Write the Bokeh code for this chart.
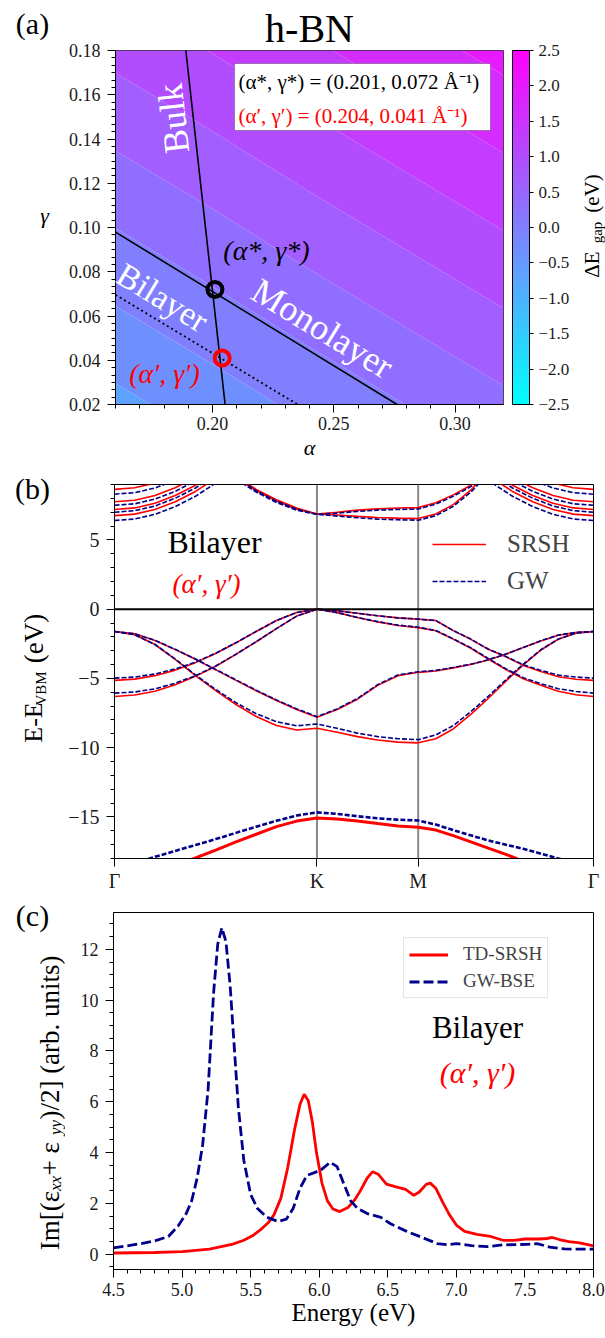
import numpy as np
from bokeh.plotting import figure
from bokeh.layouts import column, row
from bokeh.models import (Label, BoxAnnotation, ColorBar, LinearColorMapper, SingleIntervalTicker,
                          FixedTicker, PrintfTickFormatter, CustomJSTickFormatter, Legend,
                          LegendItem, Range1d, Span)
from bokeh.embed import file_html
from bokeh.resources import INLINE

SERIF = "Liberation Serif"
RED = "#ff0000"
NAVY = "#00008b"

# ---------------- (a) gap difference map ----------------
alpha_grid = [0.16, 0.20, 0.24, 0.28, 0.32]
gamma_grid = [0.02, 0.06, 0.10, 0.14, 0.18]
# ΔE_gap (eV); rows follow gamma_grid, columns follow alpha_grid
dgap = [
    [-0.59, -0.34, -0.08, 0.17, 0.42],
    [-0.21, 0.04, 0.30, 0.55, 0.80],
    [0.17, 0.42, 0.68, 0.93, 1.18],
    [0.55, 0.80, 1.06, 1.31, 1.56],
    [0.93, 1.18, 1.44, 1.69, 1.94],
]
bulk_alpha = [0.1890, 0.2052]
bulk_gamma = [0.18, 0.02]
mono_alpha = [0.16, 0.2761]
mono_gamma = [0.0979, 0.02]
bilayer_alpha = [0.16, 0.2351]
bilayer_gamma = [0.0696, 0.02]
star_alpha, star_gamma = [0.201], [0.072]
prime_alpha, prime_gamma = [0.204], [0.041]

# ---------------- (b) band structure ----------------
hs_k = [0.0, 1.0, 1.5, 2.366]
hs_labels = ["Γ", "K", "M", "Γ"]
k_path = [0.0, 0.1, 0.2, 0.3, 0.4, 0.5, 0.6, 0.7, 0.8, 0.9, 1.0,
          1.1, 1.2, 1.3, 1.4, 1.5,
          1.587, 1.673, 1.760, 1.846, 1.933, 2.019, 2.106, 2.192, 2.279, 2.366]

pi_a_srsh = [-5.14, -5.05, -4.80, -4.40, -3.86, -3.20, -2.43, -1.61, -0.82, -0.24, 0.0,
             -0.12, -0.30, -0.48, -0.63, -0.72,
             -0.82, -1.55, -2.18, -2.90, -3.44, -4.06, -4.50, -4.88, -5.06, -5.14]
pi_a_gw = [-4.98, -4.90, -4.68, -4.32, -3.82, -3.18, -2.42, -1.60, -0.82, -0.24, 0.0,
           -0.12, -0.30, -0.48, -0.63, -0.72,
           -0.82, -1.54, -2.16, -2.88, -3.41, -4.01, -4.42, -4.76, -4.90, -4.98]
pi_b_srsh = [-6.30, -6.20, -5.92, -5.45, -4.85, -4.12, -3.26, -2.35, -1.40, -0.50, 0.0,
             -0.25, -0.60, -0.92, -1.18, -1.33,
             -1.56, -2.16, -2.82, -3.60, -4.36, -5.02, -5.50, -5.92, -6.18, -6.30]
pi_b_gw = [-6.06, -5.98, -5.75, -5.35, -4.80, -4.10, -3.25, -2.35, -1.40, -0.50, 0.0,
           -0.25, -0.60, -0.90, -1.15, -1.30,
           -1.54, -2.14, -2.79, -3.56, -4.30, -4.95, -5.38, -5.74, -5.94, -6.06]
sigma_a_srsh = [-1.61, -1.78, -2.26, -2.92, -3.62, -4.38, -5.14, -5.89, -6.60, -7.25, -7.80,
                -7.24, -6.50, -5.50, -4.80, -4.56,
                -4.46, -4.24, -3.99, -3.67, -3.26, -2.77, -2.29, -1.88, -1.68, -1.61]
sigma_a_gw = [-1.61, -1.78, -2.25, -2.90, -3.60, -4.35, -5.10, -5.85, -6.55, -7.20, -7.76,
              -7.20, -6.45, -5.45, -4.75, -4.52,
              -4.42, -4.21, -3.97, -3.65, -3.24, -2.76, -2.28, -1.87, -1.68, -1.61]
sigma_b_srsh = [-1.61, -1.85, -2.55, -3.62, -4.80, -5.88, -6.88, -7.75, -8.40, -8.72, -8.60,
                -8.88, -9.20, -9.45, -9.60, -9.65,
                -9.35, -8.65, -7.60, -6.45, -5.20, -4.02, -2.95, -2.17, -1.73, -1.61]
sigma_b_gw = [-1.61, -1.85, -2.55, -3.60, -4.75, -5.80, -6.75, -7.55, -8.12, -8.42, -8.29,
              -8.60, -8.95, -9.20, -9.35, -9.42,
              -9.08, -8.41, -7.40, -6.30, -5.10, -3.97, -2.93, -2.16, -1.73, -1.61]
s_srsh = [-19.60, -19.30, -18.95, -18.50, -17.96, -17.40, -16.80, -16.25, -15.70, -15.30, -15.07,
          -15.15, -15.30, -15.48, -15.65, -15.75,
          -15.95, -16.35, -16.80, -17.25, -17.70, -18.20, -18.65, -19.05, -19.40, -19.60]
s_gw = [-18.70, -18.35, -17.88, -17.45, -17.03, -16.60, -16.15, -15.70, -15.28, -14.90, -14.67,
        -14.78, -14.95, -15.10, -15.20, -15.26,
        -15.55, -15.95, -16.33, -16.70, -17.00, -17.30, -17.65, -18.00, -18.35, -18.70]

k_pistar = [0.6, 0.7, 0.8, 0.9, 1.0, 1.1, 1.2, 1.3, 1.4, 1.5, 1.587, 1.673, 1.760, 1.846]
pistar1_srsh = [9.60, 8.65, 7.90, 7.30, 6.87, 7.00, 7.15, 7.24, 7.30, 7.33, 7.68, 8.25, 8.95, 9.70]
pistar1_gw = [9.50, 8.55, 7.80, 7.22, 6.85, 6.93, 7.06, 7.15, 7.20, 7.23, 7.58, 8.15, 8.85, 9.60]
pistar2_srsh = [9.50, 8.55, 7.80, 7.22, 6.87, 6.80, 6.70, 6.62, 6.57, 6.54, 6.87, 7.55, 8.60, 9.90]
pistar2_gw = [9.40, 8.45, 7.70, 7.14, 6.85, 6.72, 6.60, 6.50, 6.45, 6.42, 6.75, 7.42, 8.45, 9.75]

k_nfe_left = [0.0, 0.1, 0.2, 0.3, 0.4, 0.5, 0.6]
k_nfe_right = [2.366, 2.266, 2.166, 2.066, 1.966, 1.866, 1.766]
nfe_srsh = [
    [8.65, 8.76, 9.10, 9.66, 10.40, 11.40, 12.60],
    [7.75, 7.86, 8.20, 8.76, 9.50, 10.50, 11.70],
    [7.20, 7.31, 7.65, 8.21, 8.95, 9.90, 11.10],
    [6.75, 6.86, 7.20, 7.76, 8.50, 9.45, 10.60],
]
nfe_gw = [
    [8.30, 8.41, 8.75, 9.31, 10.00, 11.00, 12.20],
    [7.50, 7.61, 7.95, 8.51, 9.25, 10.20, 11.40],
    [7.00, 7.11, 7.45, 8.01, 8.75, 9.70, 10.90],
    [6.40, 6.51, 6.85, 7.41, 8.15, 9.10, 10.30],
]

# ---------------- (c) absorption spectra ----------------
e_bse = [4.50, 4.60, 4.70, 4.80, 4.90, 4.97, 5.03, 5.07, 5.11, 5.15, 5.19, 5.23, 5.26, 5.29,
         5.32, 5.35, 5.38, 5.41, 5.45, 5.50, 5.55, 5.62, 5.70, 5.76, 5.81, 5.86, 5.91, 5.97,
         6.02, 6.08, 6.13, 6.18, 6.23, 6.28, 6.35, 6.45, 6.52, 6.63, 6.75, 6.86, 6.94, 7.00,
         7.11, 7.23, 7.34, 7.51, 7.59, 7.68, 7.79, 7.90, 8.00]
im_bse = [0.25, 0.33, 0.42, 0.52, 0.70, 1.10, 1.60, 2.10, 3.00, 4.30, 6.50, 10.30, 12.20, 12.85,
          12.30, 10.60, 8.20, 5.80, 3.70, 2.35, 1.80, 1.45, 1.29, 1.38, 1.80, 2.60, 3.10, 3.22,
          3.35, 3.62, 3.45, 2.76, 2.10, 1.80, 1.60, 1.45, 1.20, 0.92, 0.66, 0.42, 0.37, 0.42,
          0.34, 0.30, 0.37, 0.39, 0.42, 0.28, 0.21, 0.20, 0.20]
e_td = [4.50, 4.80, 5.00, 5.20, 5.37, 5.45, 5.52, 5.58, 5.63, 5.67, 5.72, 5.77, 5.82, 5.86,
        5.89, 5.92, 5.95, 5.98, 6.02, 6.06, 6.10, 6.15, 6.21, 6.26, 6.30, 6.35, 6.39, 6.43,
        6.49, 6.56, 6.63, 6.69, 6.73, 6.78, 6.81, 6.85, 6.90, 6.95, 7.00, 7.06, 7.15, 7.25,
        7.34, 7.42, 7.50, 7.60, 7.66, 7.70, 7.75, 7.82, 7.90, 8.00]
im_td = [0.05, 0.07, 0.10, 0.20, 0.40, 0.55, 0.75, 1.00, 1.25, 1.55, 2.20, 3.40, 4.90, 5.90,
         6.30, 6.05, 5.20, 4.00, 2.80, 2.10, 1.78, 1.68, 1.84, 2.15, 2.50, 3.00, 3.25, 3.15,
         2.76, 2.65, 2.55, 2.32, 2.45, 2.75, 2.80, 2.60, 2.05, 1.55, 1.15, 0.90, 0.78, 0.70,
         0.55, 0.55, 0.60, 0.60, 0.62, 0.66, 0.58, 0.50, 0.45, 0.33]


# ---------------- helpers ----------------
def cool(t):
    t = min(max(t, 0.0), 1.0)
    return "#%02x%02x%02x" % (int(round(255 * t)), int(round(255 * (1 - t))), 255)


def style(p, size):
    p.xgrid.visible = False
    p.ygrid.visible = False
    p.outline_line_color = "black"
    p.outline_line_width = 1
    p.outline_line_alpha = 1
    for ax in p.axis:
        ax.major_label_text_font = SERIF
        ax.major_label_text_font_size = size
        ax.major_label_text_color = "#1a1a1a"
        ax.major_tick_in = 0
        ax.major_tick_out = 8
        ax.minor_tick_in = 0
        ax.minor_tick_out = 4
        ax.axis_line_color = "black"
        ax.major_tick_line_color = "black"
        ax.minor_tick_line_color = "black"
        ax.major_label_standoff = 7
        ax.axis_label_text_font = SERIF
        ax.axis_label_text_font_style = "normal"
        ax.axis_label_text_color = "black"


def strip(w, h):
    """Blank drawing area that only carries text."""
    s = figure(width=w, height=h, x_range=Range1d(0, 1), y_range=Range1d(0, 1),
               x_axis_type=None, y_axis_type=None, output_backend="svg",
               toolbar_location=None, min_border=0)
    s.outline_line_color = None
    s.xgrid.visible = False
    s.ygrid.visible = False
    return s


def txt(p, origin, x, y, text, size, color="black", angle=0, align="center",
        baseline="middle", font_style="normal"):
    """Place text at page position (x, y); origin is the figure's top-left on the page."""
    p.add_layout(Label(x=x - origin[0], y=y - origin[1], x_units="canvas", y_units="canvas",
                       text=text, text_font=SERIF, text_font_size=f"{size}px",
                       text_color=color, angle=angle, angle_units="deg", text_align=align,
                       text_baseline=baseline, text_font_style=font_style))


MINUS_FMT = "return (tick < 0 ? '\u2212' : '') + Math.abs(tick).toString();"

# ---------------- page pieces ----------------
A_H, B_H, C_H = 465, 429, 444
LEFT_W = 65
PA_W = 510
RIGHT_W = 605 - LEFT_W - PA_W

# ---------------- panel (a) ----------------
levels = list(np.linspace(-2.5, 2.5, 16))
band_colors = [cool(((levels[i] + levels[i + 1]) / 2 + 2.5) / 5) for i in range(15)]
cool256 = [cool(i / 255) for i in range(256)]

O_A = (LEFT_W, 0)
pa = figure(width=PA_W, height=A_H, x_range=Range1d(0.16, 0.32), y_range=Range1d(0.02, 0.18),
            output_backend="svg", toolbar_location=None,
            min_border_left=113 - LEFT_W, min_border_right=PA_W - 390 - (113 - LEFT_W),
            min_border_top=50, min_border_bottom=61)
pa.title.text = "h-BN"
pa.title.align = "center"
pa.title.offset = 17
pa.title.standoff = 0
pa.title.text_font = SERIF
pa.title.text_font_size = "40px"
pa.title.text_font_style = "normal"
pa.title.text_color = "black"

pa.contour(x=alpha_grid, y=gamma_grid, z=np.array(dgap), levels=levels,
           fill_color=band_colors, line_color=None)
pa.line(bulk_alpha, bulk_gamma, line_color="black", line_width=1.6)
pa.line(mono_alpha, mono_gamma, line_color="black", line_width=1.6)
pa.line(bilayer_alpha, bilayer_gamma, line_color="black", line_width=1.8, line_dash="2 3")
pa.scatter(star_alpha, star_gamma, marker="circle", size=15, fill_color=None,
           line_color="black", line_width=4)
pa.scatter(prime_alpha, prime_gamma, marker="circle", size=15, fill_color=None,
           line_color=RED, line_width=4)
style(pa, "18px")
pa.xaxis.ticker = SingleIntervalTicker(interval=0.05, num_minor_ticks=5)
pa.yaxis.ticker = SingleIntervalTicker(interval=0.02, num_minor_ticks=6)
pa.xaxis.formatter = PrintfTickFormatter(format="%.2f")
pa.yaxis.formatter = PrintfTickFormatter(format="%.2f")
pa.xaxis.major_label_standoff = 4
pa.xaxis.axis_label = "α"
pa.xaxis.axis_label_text_font_size = "22px"
pa.xaxis.axis_label_text_font_style = "italic"
pa.xaxis.axis_label_standoff = 2
pa.outline_line_color = "#333333"

mapper = LinearColorMapper(palette=cool256, low=-2.5, high=2.5)
cbar = ColorBar(color_mapper=mapper, location=(397, 0), orientation="vertical", width=17,
                height=354, padding=0, margin=0,
                ticker=SingleIntervalTicker(interval=0.5, num_minor_ticks=0),
                formatter=CustomJSTickFormatter(code="return tick.toFixed(1).replace('-', '\u2212');"),
                major_tick_in=0, major_tick_out=4, major_tick_line_color="black",
                minor_tick_line_color=None, bar_line_color="black", bar_line_width=1,
                label_standoff=5, major_label_text_font=SERIF, major_label_text_font_size="17px",
                major_label_text_color="#1a1a1a", background_fill_alpha=0, border_line_color=None)
pa.add_layout(cbar)

pa.add_layout(BoxAnnotation(left=234 - O_A[0], right=490 - O_A[0], top=63 - O_A[1],
                            bottom=130 - O_A[1], left_units="canvas", right_units="canvas",
                            top_units="canvas", bottom_units="canvas",
                            fill_color="white", fill_alpha=1, line_color="black", line_width=1))
txt(pa, O_A, 238, 81, "(α*, γ*) = (0.201, 0.072 Å⁻¹)", 21, align="left")
txt(pa, O_A, 238, 115, "(α′, γ′) = (0.204, 0.041 Å⁻¹)", 21, color=RED, align="left")
txt(pa, O_A, 173, 118, "Bulk", 36, color="white", angle=96.4)
txt(pa, O_A, 162, 297, "Bilayer", 34, color="white", angle=-31.3)
txt(pa, O_A, 322, 328, "Monolayer", 36, color="white", angle=-31.3)
txt(pa, O_A, 266, 250, "(α*, γ*)", 28, font_style="italic")
txt(pa, O_A, 164, 373, "(α′, γ′)", 28, color=RED, font_style="italic")

left_a = strip(LEFT_W, A_H)
txt(left_a, (0, 0), 32, 23, "(a)", 30)
txt(left_a, (0, 0), 44, 215, "γ", 22, font_style="italic")

right_a = strip(RIGHT_W, A_H)
O_RA = (LEFT_W + PA_W, 0)
txt(right_a, O_RA, 591, 264, "ΔE", 21, angle=90)
txt(right_a, O_RA, 596, 232, "gap", 15, angle=90)
txt(right_a, O_RA, 591, 193, "(eV)", 21, angle=90)

# ---------------- panel (b) ----------------
B_TOP = A_H
O_B = (LEFT_W, B_TOP)
pb = figure(width=605 - LEFT_W, height=B_H, x_range=Range1d(0, 2.366), y_range=Range1d(-18, 9),
            output_backend="svg", toolbar_location=None,
            min_border_left=113 - LEFT_W, min_border_right=12, min_border_top=19,
            min_border_bottom=35)
for k in hs_k[1:3]:
    pb.add_layout(Span(location=k, dimension="height", line_color="#888888", line_width=2,
                       level="underlay"))
pb.add_layout(Span(location=0, dimension="width", line_color="black", line_width=2))

srsh_bands = [pi_a_srsh, pi_b_srsh, sigma_a_srsh, sigma_b_srsh]
gw_bands = [pi_a_gw, pi_b_gw, sigma_a_gw, sigma_b_gw]
red_r = None
blue_r = None
for band in srsh_bands:
    r = pb.line(k_path, band, line_color=RED, line_width=1.6)
    red_r = red_r or r
pb.line(k_path, s_srsh, line_color=RED, line_width=3)
for band in (pistar1_srsh, pistar2_srsh):
    pb.line(k_pistar, band, line_color=RED, line_width=1.6)
for band in nfe_srsh:
    pb.line(k_nfe_left, band, line_color=RED, line_width=1.6)
    pb.line(k_nfe_right, band, line_color=RED, line_width=1.6)
for band in gw_bands:
    r = pb.line(k_path, band, line_color=NAVY, line_width=1.6, line_dash="5 2")
    blue_r = blue_r or r
pb.line(k_path, s_gw, line_color=NAVY, line_width=2.6, line_dash="5 2")
for band in (pistar1_gw, pistar2_gw):
    pb.line(k_pistar, band, line_color=NAVY, line_width=1.6, line_dash="5 2")
for band in nfe_gw:
    pb.line(k_nfe_left, band, line_color=NAVY, line_width=1.6, line_dash="5 2")
    pb.line(k_nfe_right, band, line_color=NAVY, line_width=1.6, line_dash="5 2")

style(pb, "20px")
pb.xaxis.ticker = FixedTicker(ticks=hs_k, minor_ticks=[])
pb.xaxis.major_label_overrides = {k: lab for k, lab in zip(hs_k, hs_labels)}
pb.xaxis.major_label_standoff = 3
pb.yaxis.ticker = SingleIntervalTicker(interval=5, num_minor_ticks=5)
pb.yaxis.formatter = CustomJSTickFormatter(code=MINUS_FMT)

leg_b = Legend(items=[LegendItem(label="SRSH", renderers=[red_r]),
                      LegendItem(label="GW", renderers=[blue_r])],
               location=(318, 261), glyph_width=54, glyph_height=32, label_height=32,
               spacing=5, padding=0, margin=0, label_standoff=21, label_text_font=SERIF,
               label_text_font_size="25px", border_line_color=None, background_fill_alpha=0)
pb.add_layout(leg_b)

txt(pb, O_B, 214, 541, "Bilayer", 32)
txt(pb, O_B, 206, 583, "(α′, γ′)", 27, color=RED, font_style="italic")

left_b = strip(LEFT_W, B_H)
O_LB = (0, B_TOP)
txt(left_b, O_LB, 32, 488, "(b)", 30)
txt(left_b, O_LB, 33, 722, "E-E", 26, angle=90)
txt(left_b, O_LB, 40, 688, "VBM", 15, angle=90)
txt(left_b, O_LB, 33, 638, "(eV)", 27, angle=90)

# ---------------- panel (c) ----------------
C_TOP = B_TOP + B_H
O_C = (LEFT_W, C_TOP)
pc = figure(width=605 - LEFT_W, height=C_H, x_range=Range1d(4.5, 8.0),
            y_range=Range1d(-0.6, 13.45), output_backend="svg", toolbar_location=None,
            min_border_left=113 - LEFT_W, min_border_right=12, min_border_top=18,
            min_border_bottom=69)
r_td = pc.line(e_td, im_td, line_color=RED, line_width=2.8)
r_bse = pc.line(e_bse, im_bse, line_color=NAVY, line_width=2.8, line_dash="10 4")
style(pc, "18px")
pc.xaxis.ticker = SingleIntervalTicker(interval=0.5, num_minor_ticks=5)
pc.xaxis.formatter = PrintfTickFormatter(format="%.1f")
pc.yaxis.ticker = SingleIntervalTicker(interval=2, num_minor_ticks=4)
pc.xaxis.major_label_standoff = 5
pc.xaxis.axis_label = "Energy (eV)"
pc.xaxis.axis_label_text_font_size = "25px"
pc.xaxis.axis_label_standoff = 0

leg_c = Legend(items=[LegendItem(label="TD-SRSH", renderers=[r_td]),
                      LegendItem(label="GW-BSE", renderers=[r_bse])],
               location=(290, 271), glyph_width=39, glyph_height=21, label_height=21,
               spacing=5, padding=5, margin=0, label_standoff=15, label_text_font=SERIF,
               label_text_font_size="19px", border_line_color="#cccccc", border_line_width=1.2,
               background_fill_color="white", background_fill_alpha=0.8)
pc.add_layout(leg_c)

txt(pc, O_C, 477, 1027, "Bilayer", 31)
txt(pc, O_C, 477, 1072, "(α′, γ′)", 30, color=RED, font_style="italic")

left_c = strip(LEFT_W, C_H)
O_LC = (0, C_TOP)
txt(left_c, O_LC, 32, 915, "(c)", 30)
txt(left_c, O_LC, 49, 1220, "Im[(ε", 27, angle=90)
txt(left_c, O_LC, 55, 1183, "xx", 17, angle=90, font_style="italic")
txt(left_c, O_LC, 49, 1155, " + ε", 27, angle=90)
txt(left_c, O_LC, 55, 1127, "yy", 17, angle=90, font_style="italic")
txt(left_c, O_LC, 49, 1037, ")/2] (arb. units)", 27, angle=90)

layout = column(
    row(column(left_a), column(pa), column(right_a), spacing=0),
    row(column(left_b), column(pb), spacing=0),
    row(column(left_c), column(pc), spacing=0),
    spacing=0,
)
open("out.html", "w").write(file_html(layout, INLINE, title="h-BN"))
